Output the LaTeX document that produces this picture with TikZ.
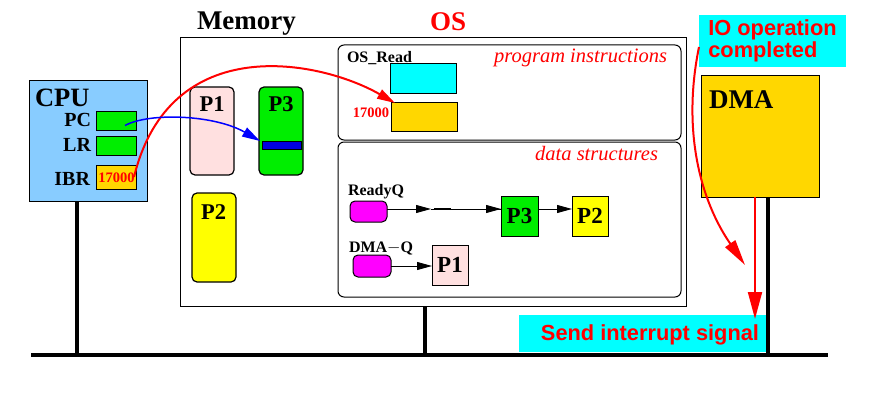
\documentclass[tikz,border=0pt]{standalone}
\usepackage{fontspec}
\setmainfont{Liberation Serif}
\setsansfont{Liberation Sans}
\usetikzlibrary{arrows.meta}
\definecolor{cpublue}{HTML}{88CCFF}
\definecolor{regg}{HTML}{00EE00}
\definecolor{gold}{HTML}{FFD700}
\definecolor{pinkp}{HTML}{FFE0E0}
\definecolor{yel}{HTML}{FFFF00}
\definecolor{qmag}{HTML}{FF00FF}
\definecolor{cy}{HTML}{00FFFF}
\definecolor{barblue}{HTML}{0000E0}
\begin{document}
\begin{tikzpicture}[x=1pt,y=-1pt,
 box/.style={draw=black,line width=1pt,inner sep=0pt,outer sep=0pt},
 proc/.style={box,rounded corners=5pt,line width=1.2pt},
 osbox/.style={box,rounded corners=6pt},
 qbox/.style={box,font=\fontsize{23}{24}\selectfont\bfseries},
 pill/.style={box,rounded corners=5pt,fill=qmag},
 lbl/.style={inner sep=0pt,outer sep=0pt},
 bigt/.style={lbl,font=\fontsize{27}{30}\selectfont\bfseries},
 regt/.style={lbl,font=\fontsize{20}{22}\selectfont\bfseries},
 plbl/.style={lbl,font=\fontsize{22.5}{24}\selectfont\bfseries},
 smallt/.style={lbl,font=\fontsize{16}{18}\selectfont\bfseries},
 numt/.style={lbl,text=red,font=\fontsize{14.5}{16}\selectfont\bfseries},
 itt/.style={lbl,text=red,font=\fontsize{20.5}{22}\selectfont\itshape},
 sanst/.style={lbl,text=red,font=\fontsize{21.8}{20}\selectfont\sffamily\bfseries},
 bus/.style={line width=4pt},
 qarrow/.style={line width=0.9pt,-{Triangle[length=15pt,width=8pt]}},
 redarrow/.style={red,line width=2pt},
]
\useasboundingbox (0,0) rectangle (886,396);

% CPU
\node[box,fill=cpublue,minimum width=118pt,minimum height=121pt] (cpu) at (88,140.5) {};
\node[lbl,font=\fontsize{26.5}{28}\selectfont\bfseries,anchor=base west] (cput) at (35,106) {CPU};
\node[box,fill=regg,minimum width=40pt,minimum height=19pt] (pc) at (116,120.5) {};
\node[box,fill=regg,minimum width=40pt,minimum height=19pt] (lr) at (116,145.5) {};
\node[box,fill=gold,minimum width=40pt,minimum height=24pt] (ibr) at (116,177) {};
\node[regt,anchor=base east] (pct) at (91,126.5) {PC};
\node[regt,anchor=base east] (lrt) at (91,151) {LR};
\node[regt,anchor=base east] (ibrt) at (90,185) {IBR};
\node[numt] (ibrv) at (116.5,178) {17000};

% Memory
\node[bigt,anchor=base west] (memt) at (197,30) {Memory};
\node[bigt,text=red,anchor=base west] (ost) at (430,31) {OS};
\node[box,minimum width=506pt,minimum height=268pt] (mem) at (433,172) {};

\node[proc,fill=pinkp,minimum width=44pt,minimum height=88pt] (p1) at (212,131) {};
\node[plbl] (p1t) at (212,104.5) {P1};
\node[proc,fill=regg,minimum width=44pt,minimum height=88pt] (p3) at (281,131) {};
\node[plbl] (p3t) at (281,104.5) {P3};
\node[box,fill=barblue,minimum width=39pt,minimum height=8pt] (bar) at (281.5,145) {};
\node[proc,fill=yel,minimum width=44pt,minimum height=89pt] (p2) at (214,237.5) {};
\node[plbl] (p2t) at (213.5,212.5) {P2};

% OS program instructions
\node[osbox,minimum width=343pt,minimum height=95pt] (prog) at (509.5,92.5) {};
\node[smallt,anchor=base west] (osread) at (347,63) {OS\_Read};
\node[itt,anchor=base east] (progt) at (667,63) {program instructions};
\node[box,fill=cy,minimum width=66pt,minimum height=29pt] (cyr) at (423,78.5) {};
\node[box,fill=gold,minimum width=66pt,minimum height=29pt] (gold) at (424,116.5) {};
\node[numt,anchor=base east] (osnum) at (389,117) {17000};

% OS data structures
\node[osbox,minimum width=343pt,minimum height=155pt] (data) at (509.5,219.5) {};
\node[itt,anchor=base east] (datat) at (658,160) {data structures};
\node[smallt,anchor=base west] (rqt) at (348,195) {ReadyQ};
\node[pill,minimum width=37pt,minimum height=21pt] (rq) at (368.5,211.5) {};
\node[qbox,fill=regg,minimum width=37pt,minimum height=40pt] (qp3) at (519.5,216) {P3};
\node[qbox,fill=yel,minimum width=36pt,minimum height=40pt] (qp2) at (590,216) {P2};
\node[smallt,anchor=base west] (dqt) at (349,252) {DMA$-$Q};
\node[pill,minimum width=38pt,minimum height=22pt] (dq) at (372,266) {};
\node[qbox,fill=pinkp,minimum width=36pt,minimum height=40pt] (qp1) at (450,265) {P1};

\coordinate (qmid) at (431,209);
\coordinate (qs1) at (434,209);
\coordinate (qs2) at (451,209);
\draw[qarrow] (rq.east |- qmid) -- (qmid);
\draw[line width=0.9pt] (qmid) -- (qp3.west |- qmid);
\draw[qarrow] (qs2) -- (qp3.west |- qmid);
\draw[line width=1.8pt] (qs1) -- (qs2);
\draw[qarrow] (qp3.east |- qmid) -- (qp2.west |- qmid);
\draw[qarrow] (dq.east) -- (dq.east -| qp1.west);

% IO and DMA
\node[lbl,fill=cy,minimum width=147pt,minimum height=52pt,align=left,text=red,
      font=\fontsize{21.8}{20}\selectfont\sffamily\bfseries] (io) at (772.5,41) {IO operation\\completed};
\node[box,fill=gold,minimum width=118pt,minimum height=121pt] (dma) at (760,136.5) {};
\node[bigt,anchor=base west] (dmat) at (709,108) {DMA};
\node[lbl,fill=cy,minimum width=247pt,minimum height=37pt] (send) at (642.5,333.5) {};
\node[sanst,anchor=base east] (sendt) at (759,340) {Send interrupt signal};

% bus
\coordinate (busL) at (31,355);
\coordinate (busR) at (828,355);
\coordinate (cpuBus) at (77,355);
\coordinate (memBus) at (425,355);
\coordinate (dmaBus) at (768,355);
\draw[bus] (busL) -- (busR);
\draw[bus] (cpu.south -| cpuBus) -- (cpuBus);
\draw[bus] (mem.south -| memBus) -- (memBus);
\draw[bus] (dma.south -| dmaBus) -- (dmaBus);

% curves
\draw[redarrow,-{Triangle[length=18pt,width=10pt]}]
  ([xshift=-2pt]ibr.east) .. controls (170,30) and (320,60) .. ([xshift=4pt,yshift=-1pt]gold.north west);
\draw[blue,line width=1.5pt,-{Triangle[length=18pt,width=10pt]}]
  ([xshift=9pt,yshift=-5pt]pc.center) .. controls (150,112) and (215,115) .. ([xshift=-2pt]bar.north west);
\coordinate (curveEnd) at (745,265);
\draw[redarrow,-{Triangle[length=26pt,width=12pt]}]
  ([yshift=-6pt]io.west) .. controls (682,130) and (700,200) .. (curveEnd);
\coordinate (redx) at (755,0);
\draw[redarrow,-{Triangle[length=27pt,width=14pt]}]
  (dma.south -| redx) -- ([yshift=-4pt]send.north -| redx);
\end{tikzpicture}
\end{document}
